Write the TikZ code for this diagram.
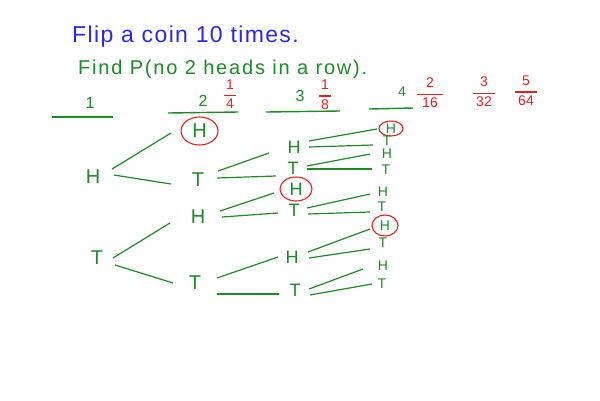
\documentclass[tikz,border=0pt]{standalone}
\usepackage{amsmath}
\usepackage{fontspec}
\setmainfont{Liberation Sans}
\usetikzlibrary{shapes.geometric,calc}
\definecolor{pgreen}{RGB}{25,140,35}
\definecolor{pred}{RGB}{230,30,30}
\definecolor{pblue}{RGB}{40,40,235}
\newcommand{\myfr}[3][2pt]{$\genfrac{}{}{1.1pt}{0}{\mbox{\hspace{#1}#2\hspace{#1}}}{\mbox{\hspace{#1}#3\hspace{#1}}}$}
\begin{document}
\begin{tikzpicture}[x=1pt,y=-1pt,
  lvA/.style={text=pgreen,font=\fontsize{20}{24}\selectfont,inner sep=0pt},
  lvB/.style={text=pgreen,font=\fontsize{18}{22}\selectfont,inner sep=0pt},
  lvC/.style={text=pgreen,font=\fontsize{14}{16}\selectfont,inner sep=0pt},
  circ/.style={ellipse,draw=pred,line width=1.1pt},
  hdr/.style={text=pgreen,font=\fontsize{16}{18}\selectfont,inner sep=0pt},
  frc/.style={text=pred,font=\fontsize{14}{16}\selectfont,inner sep=0pt},
  edge/.style={draw=pgreen,line width=1.2pt},
  uline/.style={draw=pgreen,line width=1.4pt},
]
\useasboundingbox (0,0) rectangle (600,400);

% title
\node[anchor=base west,text=pblue,font=\fontsize{23}{27}\selectfont\addfontfeatures{LetterSpace=6},inner sep=0pt] (title) at (72,42) {Flip a coin 10 times.};
\node[anchor=base west,text=pgreen,font=\fontsize{20}{24}\selectfont\addfontfeatures{LetterSpace=9},inner sep=0pt] (sub) at (78,74) {Find P(no 2 heads in a row).};

% headers
\node[hdr] (c1) at (90,103) {1};
\node[hdr] (c2) at (203,101) {2};
\node[hdr] (c3) at (300,96) {3};
\node[hdr,font=\fontsize{14}{16}\selectfont] (c4) at (402,92) {4};
\node[frc] (f2) at (230,94) {\myfr{1}{4}};
\node[frc] (f3) at (325,95) {\myfr{1}{8}};
\node[frc] (f4) at (430,93) {\myfr[5pt]{2}{16}};
\node[frc] (f5) at (484,92) {\myfr[3pt]{3}{32}};
\node[frc] (f6) at (526,91) {\myfr[3pt]{5}{64}};
\draw[uline] (52,117) -- (113,117);
\draw[uline] (168,113) -- (238,112);
\draw[uline] (266,112) -- (340,111);
\draw[uline] (369,109) -- (413,108);

% level 1
\node[lvA] (h1) at (93,177) {H};
\node[lvA] (t1) at (97,258) {T};
% level 2
\node[lvA,circ,minimum width=37pt,minimum height=28pt] (hh) at (199.5,131) {H};
\node[lvA] (ht) at (198,180) {T};
\node[lvA] (th) at (198,217) {H};
\node[lvA] (tt) at (195,283) {T};
% level 3
\node[lvB] (hth) at (294,147) {H};
\node[lvB] (htt) at (293,168) {T};
\node[lvB,circ,minimum width=32pt,minimum height=24pt] (thh) at (296,189) {H};
\node[lvB] (tht) at (294,210) {T};
\node[lvB] (tth) at (292,257) {H};
\node[lvB] (ttt) at (295,290) {T};
% level 4
\node[lvC,circ,minimum width=24pt,minimum height=15pt] (a1) at (391,128.5) {H};
\node[lvC] (a2) at (387,141) {T};
\node[lvC] (a3) at (387,154) {H};
\node[lvC] (a4) at (386,170) {T};
\node[lvC] (a5) at (383,192) {H};
\node[lvC] (a6) at (382,207) {T};
\node[lvC,circ,minimum width=26pt,minimum height=21pt] (a7) at (385,225.5) {H};
\node[lvC] (a8) at (383,243) {T};
\node[lvC] (a9) at (383,266) {H};
\node[lvC] (a10) at (382,284) {T};

% edges level 1 -> 2
\draw[edge] ([shift={(19,-8)}]h1.center) -- ([shift={(-28.5,2)}]hh.center);
\draw[edge] ([shift={(21,-2)}]h1.center) -- ([shift={(-27,4)}]ht.center);
\draw[edge] ([shift={(16,0)}]t1.center) -- ([shift={(-28,6)}]th.center);
\draw[edge] ([shift={(18,7)}]t1.center) -- ([shift={(-22,0)}]tt.center);
% level 2 -> 3
\draw[edge] ([shift={(20,-9)}]ht.center) -- ([shift={(-25,6)}]hth.center);
\draw[edge] ([shift={(19,-2)}]ht.center) -- ([shift={(-17,8)}]htt.center);
\draw[edge] ([shift={(22,-6)}]th.center) -- ([shift={(-22,4)}]thh.center);
\draw[edge] ([shift={(24,0)}]th.center) -- ([shift={(-16,3)}]tht.center);
\draw[edge] ([shift={(22,-5)}]tt.center) -- ([shift={(-14,0)}]tth.center);
\draw[edge] ([shift={(22,11)}]tt.center) -- ([shift={(-16,4)}]ttt.center);
% level 3 -> 4
\draw[edge] ([shift={(15,-6)}]hth.center) -- ([shift={(-14,0.5)}]a1.center);
\draw[edge] ([shift={(15,0)}]hth.center) -- ([shift={(-14,4)}]a2.center);
\draw[edge] ([shift={(14,-2)}]htt.center) -- ([shift={(-17,0)}]a3.center);
\draw[edge] ([shift={(14,1)}]htt.center) -- ([shift={(-14,-1)}]a4.center);
\draw[edge] ([shift={(13,-2)}]tht.center) -- ([shift={(-13,2)}]a5.center);
\draw[edge] ([shift={(14,4)}]tht.center) -- ([shift={(-12,5)}]a6.center);
\draw[edge] ([shift={(16,-5)}]tth.center) -- ([shift={(-15,3.5)}]a7.center);
\draw[edge] ([shift={(17,1)}]tth.center) -- ([shift={(-13,6)}]a8.center);
\draw[edge] ([shift={(14,-1)}]ttt.center) -- ([shift={(-20,3)}]a9.center);
\draw[edge] ([shift={(15,5)}]ttt.center) -- ([shift={(-10,0)}]a10.center);
\end{tikzpicture}
\end{document}
